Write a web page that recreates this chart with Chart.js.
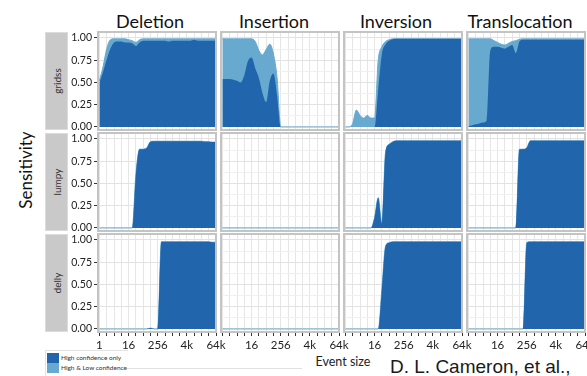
<!DOCTYPE html>
<html>
<head>
<meta charset="utf-8">
<script src="https://cdn.jsdelivr.net/npm/chart.js@4.4.1/dist/chart.umd.min.js"></script>
<style>
  html, body { margin: 0; padding: 0; background: #fff; }
  body { width: 587px; height: 376px; position: relative; overflow: hidden; font-family: Lato, "Open Sans", sans-serif; }
  canvas { position: absolute; }
  .title { position: absolute; top: 12px; font-size: 18px; line-height: 18px; color: #111; transform: translateX(-50%); white-space: nowrap; }
  .strip { position: absolute; left: 45px; width: 23px; height: 98px; background: #c9c9c9; box-sizing: border-box; border: 1px solid #dcdcdc; }
  .strip span { position: absolute; left: 50%; top: 50%; transform: translate(-50%, -50%) rotate(-90deg); font-size: 10px; color: #333; white-space: nowrap; }
  #ylab { position: absolute; left: 25px; top: 170px; transform: translate(-50%, -50%) rotate(-90deg); font-size: 17px; color: #111; white-space: nowrap; }
  #xlab { position: absolute; left: 343px; top: 355px; transform: translateX(-50%); font-size: 12.5px; line-height: 13px; color: #222; white-space: nowrap; }
  #legend { position: absolute; left: 45px; top: 350px; width: 82px; height: 30px; border-left: 1px solid #e2e2e2; border-top: 1px solid #e2e2e2; }
  .key { position: absolute; left: 1px; width: 12px; height: 10px; }
  .keytext { position: absolute; left: 15px; font-size: 6.5px; line-height: 10px; color: #333; white-space: nowrap; }
  #rule { position: absolute; left: 127px; top: 368px; width: 175px; height: 1px; background: #e2e2e2; }
  #cite { position: absolute; left: 390px; top: 357px; font-family: "Liberation Sans", Arial, sans-serif; font-size: 19px; line-height: 19px; color: #1a1a1a; white-space: nowrap; }
</style>
</head>
<body>
<div class="title" style="left:150px">Deletion</div>
<div class="title" style="left:274px">Insertion</div>
<div class="title" style="left:396px">Inversion</div>
<div class="title" style="left:520px">Translocation</div>
<div class="strip" style="top:32px"><span>gridss</span></div>
<div class="strip" style="top:133px"><span>lumpy</span></div>
<div class="strip" style="top:234px"><span>delly</span></div>
<div id="ylab">Sensitivity</div>
<div id="xlab">Event size</div>
<div id="legend">
  <div class="key" style="top:2px;background:#2166ac"></div><div class="keytext" style="top:2px">High confidence only</div>
  <div class="key" style="top:12px;background:#67a9cf"></div><div class="keytext" style="top:12px">High &amp; Low confidence</div>
</div>
<div id="rule"></div>
<div id="cite">D. L. Cameron, et al.,</div>
<script>
// event size as log2(bp), 1 bp .. 64 kbp
const log2Size = [0, 0.5, 1, 1.5, 2, 2.5, 3, 3.5, 4, 4.5, 5, 5.5, 6, 6.5, 7, 7.5, 8,
  8.5, 9, 9.5, 10, 10.5, 11, 11.5, 12, 12.5, 13, 13.5, 14, 14.5, 15, 15.5, 16];
const callers = ['gridss', 'lumpy', 'delly'];
const eventTypes = ['Deletion', 'Insertion', 'Inversion', 'Translocation'];
const xGrid = [0, 1, 2, 3, 4, 5, 6, 7, 8, 9, 10, 11, 12, 13, 14, 15, 16];
const xTickPos = [0, 4, 8, 12, 16];
const xTickText = ['1', '16', '256', '4k', '64k'];
const yGrid = [0, 0.125, 0.25, 0.375, 0.5, 0.625, 0.75, 0.875, 1];
const yTickVals = [0, 0.25, 0.5, 0.75, 1];

// gridss: high confidence only / high & low confidence
const gridssDelHigh = [0.50, 0.62, 0.76, 0.88, 0.95, 0.96, 0.96, 0.95, 0.95, 0.94, 0.91, 0.95, 0.97, 0.97, 0.97, 0.97, 0.97,
  0.97, 0.97, 0.96, 0.97, 0.97, 0.97, 0.97, 0.97, 0.97, 0.98, 0.97, 0.97, 0.97, 0.97, 0.97, 0.97];
const gridssDelAll = [0.52, 0.68, 0.88, 0.98, 0.99, 0.99, 0.99, 0.99, 0.98, 0.97, 0.95, 0.98, 0.99, 0.99, 0.99, 0.99, 0.99,
  0.99, 0.99, 0.99, 0.99, 0.99, 0.99, 0.99, 0.99, 0.99, 0.99, 0.99, 0.99, 0.99, 0.99, 0.99, 0.99];
const gridssInsHigh = [0.54, 0.54, 0.54, 0.53, 0.52, 0.50, 0.58, 0.74, 0.78, 0.66, 0.55, 0.38, 0.28, 0.52, 0.60, 0.35, 0,
  0, 0, 0, 0, 0, 0, 0, 0, 0, 0, 0, 0, 0, 0, 0, 0];
const gridssInsAll = [0.99, 0.99, 0.99, 0.99, 0.99, 0.99, 0.99, 0.99, 0.99, 0.96, 0.86, 0.81, 0.87, 0.93, 0.82, 0.55, 0,
  0, 0, 0, 0, 0, 0, 0, 0, 0, 0, 0, 0, 0, 0, 0, 0];
const gridssInvHigh = [0, 0, 0, 0, 0, 0, 0, 0, 0, 0.42, 0.82, 0.93, 0.97, 0.985, 0.99, 0.99, 0.99,
  0.99, 0.99, 0.99, 0.99, 0.99, 0.99, 0.99, 0.99, 0.99, 0.99, 0.99, 0.99, 0.99, 0.99, 0.99, 0.99];
const gridssInvAll = [0, 0, 0.04, 0.19, 0.13, 0.10, 0.13, 0.10, 0.10, 0.75, 0.90, 0.96, 0.98, 0.99, 0.99, 0.99, 0.99,
  0.99, 0.99, 0.99, 0.99, 0.99, 0.99, 0.99, 0.99, 0.99, 0.99, 0.99, 0.99, 0.99, 0.99, 0.99, 0.99];
const gridssTraHigh = [0.01, 0.02, 0.03, 0.04, 0.05, 0.07, 0.86, 0.90, 0.90, 0.89, 0.88, 0.90, 0.92, 0.83, 0.96, 0.98, 0.98,
  0.98, 0.98, 0.98, 0.98, 0.98, 0.98, 0.98, 0.98, 0.98, 0.98, 0.98, 0.98, 0.98, 0.98, 0.98, 0.98];
const gridssTraAll = [0.99, 0.99, 0.99, 0.99, 0.99, 0.99, 0.99, 0.97, 0.95, 0.93, 0.92, 0.94, 0.96, 0.97, 0.985, 0.99, 0.99,
  0.99, 0.99, 0.99, 0.99, 0.99, 0.99, 0.99, 0.99, 0.99, 0.99, 0.99, 0.99, 0.99, 0.99, 0.99, 0.99];

// lumpy and delly: both confidence sets coincide
const lumpyDel = [0, 0, 0, 0, 0, 0, 0, 0, 0, 0, 0.60, 0.885, 0.885, 0.90, 0.97, 0.975, 0.975,
  0.975, 0.975, 0.975, 0.975, 0.975, 0.975, 0.975, 0.975, 0.975, 0.975, 0.975, 0.975, 0.97, 0.97, 0.965, 0.965];
const lumpyIns = [0, 0, 0, 0, 0, 0, 0, 0, 0, 0, 0, 0, 0, 0, 0, 0, 0,
  0, 0, 0, 0, 0, 0, 0, 0, 0, 0, 0, 0, 0, 0, 0, 0];
const lumpyInv = [0, 0, 0, 0, 0, 0, 0, 0, 0.12, 0.34, 0.05, 0.85, 0.94, 0.97, 0.98, 0.98, 0.98,
  0.98, 0.98, 0.98, 0.98, 0.98, 0.98, 0.98, 0.98, 0.98, 0.98, 0.98, 0.98, 0.98, 0.98, 0.98, 0.98];
const lumpyTra = [0, 0, 0, 0, 0, 0, 0, 0, 0, 0, 0, 0, 0, 0, 0.885, 0.885, 0.90,
  0.98, 0.98, 0.98, 0.98, 0.98, 0.98, 0.98, 0.98, 0.98, 0.98, 0.98, 0.98, 0.98, 0.98, 0.98, 0.98];
const dellyDel = [0, 0, 0, 0, 0, 0, 0, 0, 0, 0, 0, 0, 0, 0, 0.01, 0, 0,
  0.98, 0.98, 0.98, 0.98, 0.98, 0.98, 0.98, 0.98, 0.98, 0.98, 0.98, 0.98, 0.98, 0.98, 0.975, 0.975];
const dellyIns = [0, 0, 0, 0, 0, 0, 0, 0, 0, 0, 0, 0, 0, 0, 0, 0, 0,
  0, 0, 0, 0, 0, 0, 0, 0, 0, 0, 0, 0, 0, 0, 0, 0];
const dellyInv = [0, 0, 0, 0, 0, 0, 0, 0, 0, 0, 0.45, 0.93, 0.97, 0.98, 0.98, 0.98, 0.98,
  0.98, 0.98, 0.98, 0.98, 0.98, 0.98, 0.98, 0.98, 0.98, 0.98, 0.98, 0.98, 0.98, 0.98, 0.98, 0.98];
const dellyTra = [0, 0, 0, 0, 0, 0, 0, 0, 0, 0, 0, 0, 0, 0, 0, 0, 0.97,
  0.98, 0.98, 0.98, 0.98, 0.98, 0.98, 0.98, 0.98, 0.98, 0.98, 0.98, 0.98, 0.98, 0.98, 0.98, 0.98];

const panelData = [
  [[gridssDelHigh, gridssDelAll], [gridssInsHigh, gridssInsAll], [gridssInvHigh, gridssInvAll], [gridssTraHigh, gridssTraAll]],
  [[lumpyDel, lumpyDel], [lumpyIns, lumpyIns], [lumpyInv, lumpyInv], [lumpyTra, lumpyTra]],
  [[dellyDel, dellyDel], [dellyIns, dellyIns], [dellyInv, dellyInv], [dellyTra, dellyTra]]
];

const DARK = '#2166ac', LIGHT = '#67a9cf';
const colLeft = [98, 221, 344, 467], rowTop = [32, 133, 234];
const PW = 118, PH = 98, PAD = 14, YW = 28, XH = 22;

Chart.defaults.font.family = 'Lato, "Open Sans", sans-serif';
Chart.defaults.color = '#222';

// grey frame round each facet
const panelBorder = {
  id: 'panelBorder',
  afterDraw(chart) {
    const a = chart.chartArea, ctx = chart.ctx;
    ctx.save();
    ctx.strokeStyle = '#c4c4c4';
    ctx.lineWidth = 2;
    ctx.strokeRect(a.left, a.top, a.right - a.left, a.bottom - a.top);
    ctx.restore();
  }
};

const toPoints = vals => log2Size.map((x, i) => ({ x: x, y: vals[i] }));
const isMajorY = v => yTickVals.indexOf(v) >= 0;

callers.forEach((caller, r) => {
  eventTypes.forEach((type, c) => {
    const [high, all] = panelData[r][c];
    const yw = c === 0 ? YW : 0;
    const xh = r === 2 ? XH : 0;
    const cv = document.createElement('canvas');
    cv.width = PW + 2 * PAD + yw;
    cv.height = PH + 2 * PAD + xh;
    cv.style.left = (colLeft[c] - PAD - yw) + 'px';
    cv.style.top = (rowTop[r] - PAD) + 'px';
    document.body.appendChild(cv);

    new Chart(cv, {
      type: 'line',
      data: {
        datasets: [{
          label: 'High confidence only',
          data: toPoints(high),
          fill: 'origin',
          backgroundColor: DARK,
          borderWidth: 0,
          pointRadius: 0,
          cubicInterpolationMode: 'monotone',
          order: 0
        }, {
          label: 'High & Low confidence',
          data: toPoints(all),
          fill: 'origin',
          backgroundColor: LIGHT,
          borderColor: LIGHT,
          borderWidth: 1,
          pointRadius: 0,
          cubicInterpolationMode: 'monotone',
          order: 1
        }]
      },
      options: {
        responsive: false,
        animation: false,
        layout: { padding: PAD },
        plugins: { legend: { display: false }, tooltip: { enabled: false } },
        scales: {
          x: {
            type: 'linear',
            min: -0.2,
            max: 16,
            afterBuildTicks: s => { s.ticks = xGrid.map(v => ({ value: v })); },
            afterFit: s => { s.height = xh; },
            border: { display: false },
            grid: { color: '#e6e6e6', drawTicks: r === 2, tickLength: 4, tickColor: '#333' },
            ticks: {
              display: r === 2,
              autoSkip: false,
              maxRotation: 0,
              padding: 2,
              font: { size: 11.5 },
              callback: v => {
                const k = xTickPos.indexOf(v);
                if (k < 0 || (k === 0 && c > 0)) return '';
                return xTickText[k];
              }
            }
          },
          y: {
            min: -0.034,
            max: 1.067,
            afterBuildTicks: s => { s.ticks = yGrid.map(v => ({ value: v })); },
            afterFit: s => { s.width = yw; },
            border: { display: false },
            grid: {
              color: ctx => isMajorY(ctx.tick.value) ? '#e2e2e2' : '#f0f0f0',
              drawTicks: c === 0,
              tickLength: 4,
              tickColor: ctx => isMajorY(ctx.tick.value) ? '#333' : 'rgba(0,0,0,0)'
            },
            ticks: {
              display: c === 0,
              padding: 2,
              font: { size: 10.5 },
              callback: v => isMajorY(v) ? v.toFixed(2) : ''
            }
          }
        }
      },
      plugins: [panelBorder]
    });
  });
});
</script>
</body>
</html>
